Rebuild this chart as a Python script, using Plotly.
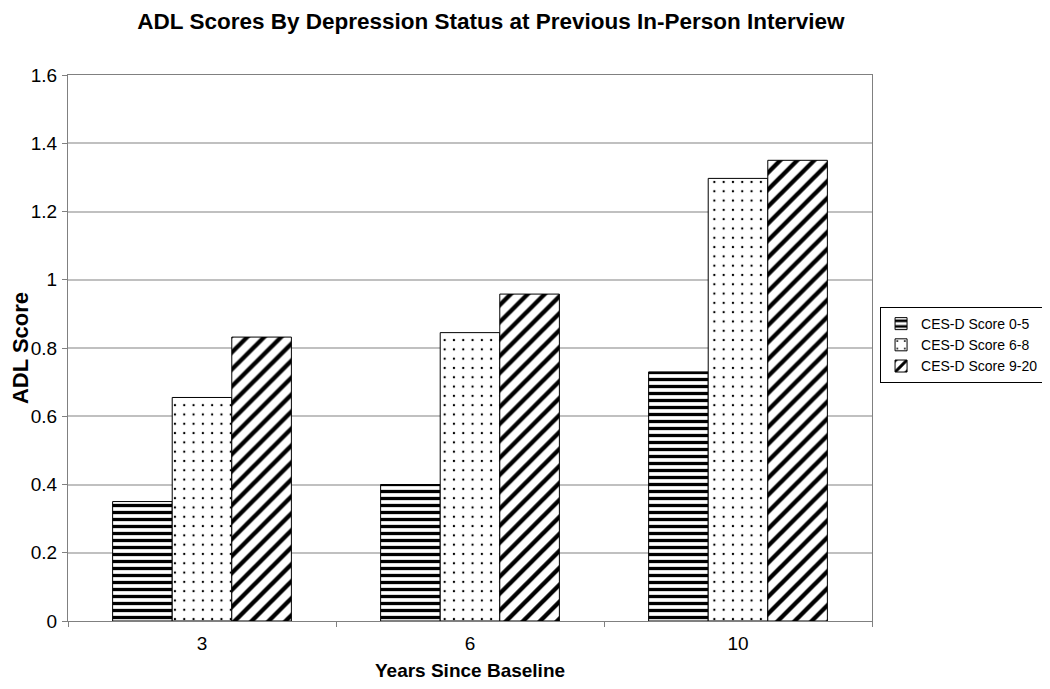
import plotly.graph_objects as go

years = ["3", "6", "10"]
series_names = ["CES-D Score 0-5", "CES-D Score 6-8", "CES-D Score 9-20"]
score_0_5 = [0.35, 0.40, 0.73]
score_6_8 = [0.655, 0.845, 1.297]
score_9_20 = [0.832, 0.958, 1.350]

values = [score_0_5, score_6_8, score_9_20]
patterns = [
    dict(shape="-", size=7, solidity=0.47),
    dict(shape=".", size=9.3, solidity=0.05),
    dict(shape="/", size=12, solidity=0.36),
]

FONT = "Liberation Sans, Arial, sans-serif"

fig = go.Figure()
for name, vals, pat in zip(series_names, values, patterns):
    fig.add_trace(go.Bar(
        x=years, y=vals, name=name,
        marker=dict(
            color="white",
            line=dict(color="black", width=1),
            pattern=dict(fgcolor="black", bgcolor="white", fillmode="replace", **pat),
        ),
    ))

# page body has an 8px margin, so the figure is sized to the remaining viewport
fig.update_layout(
    width=1042, height=681,
    paper_bgcolor="white", plot_bgcolor="white",
    margin=dict(l=60, r=178, t=67, b=68, autoexpand=False),
    barmode="group", bargap=0.333, bargroupgap=0,
    font=dict(family=FONT, size=15, color="black"),
    title=dict(
        text="<b>ADL Scores By Depression Status at Previous In-Person Interview</b>",
        x=0.4635, xanchor="center", y=0.992, yanchor="top",
        pad=dict(t=0, b=0),
        font=dict(size=22.5, family=FONT, color="black"),
    ),
    legend=dict(
        xref="container", yref="container",
        x=0.8369, xanchor="left", y=0.5051, yanchor="middle",
        bordercolor="black", borderwidth=1, bgcolor="white",
        font=dict(size=14, family=FONT), itemwidth=30,
        tracegroupgap=0,
    ),
    showlegend=True,
)

fig.update_xaxes(
    type="category", tickson="boundaries", ticks="outside", ticklen=5,
    tickcolor="#808080", showline=True, linecolor="#808080", linewidth=1,
    mirror=True, showgrid=False, ticklabelstandoff=5, automargin=False,
    tickfont=dict(size=19, family=FONT),
    title=dict(text="<b>Years Since Baseline</b>", font=dict(size=19, family=FONT), standoff=10),
)
fig.update_yaxes(
    range=[0, 1.6], dtick=0.2, tick0=0, ticks="outside", ticklen=5,
    tickcolor="#808080", showline=True, linecolor="#808080", linewidth=1,
    mirror=True, showgrid=True, gridcolor="#c0c0c0", gridwidth=1.5,
    tickformat="~g", zeroline=False, ticklabelstandoff=1, automargin=False,
    tickfont=dict(size=19, family=FONT),
    title=dict(text="<b>ADL Score</b>", font=dict(size=22, family=FONT), standoff=2),
)

fig.write_html("out.html")
